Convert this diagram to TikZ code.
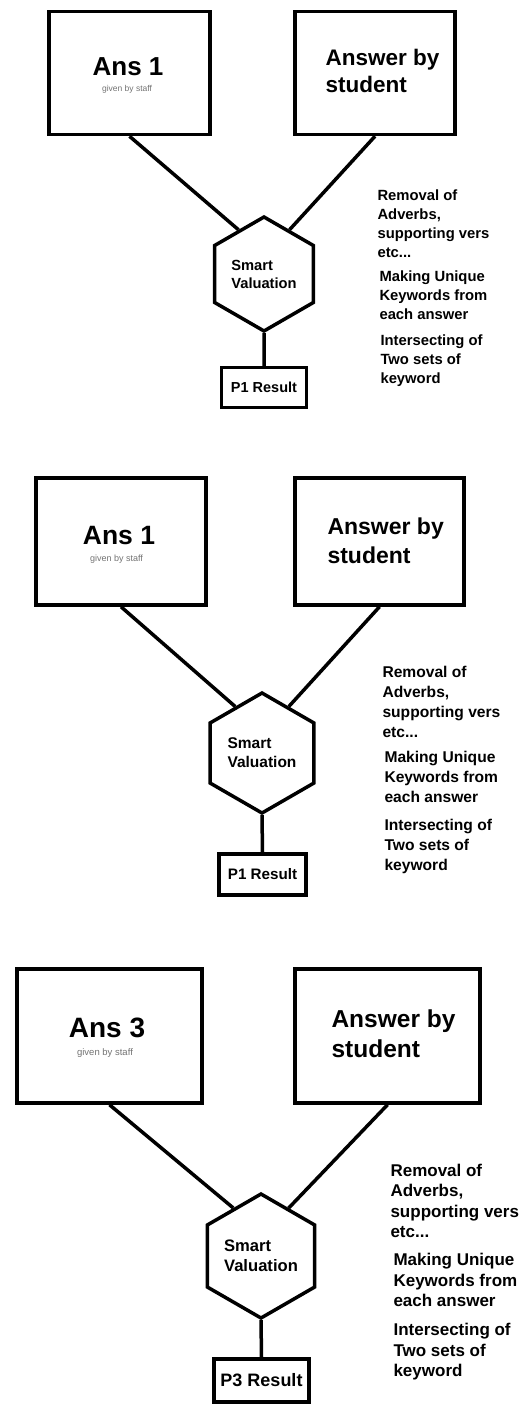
\documentclass[tikz,border=0pt]{standalone}
\usepackage{fontspec}
\setmainfont{Liberation Sans}
\usetikzlibrary{shapes.geometric,positioning}
\newcommand{\fsz}[2]{\fontsize{#1pt}{#2pt}\selectfont\bfseries}

\begin{document}
\begin{tikzpicture}[x=1pt, y=-1pt,
    box/.style={draw, line width=3.5pt, inner sep=0pt},
    hexa/.style={draw, line width=3.5pt, regular polygon, regular polygon sides=6, shape border rotate=90, inner sep=0pt, align=left},
    link/.style={line width=3.5pt},
    small/.style={text=black!55},
    note/.style={anchor=west, align=left}]
    \useasboundingbox (0,0) rectangle (528,1405);
    % panel 1
    \node[box, minimum width=161pt, minimum height=123pt] (a1) at (129.5,73) {};
    \node[box, minimum width=160pt, minimum height=123pt] (s1) at (375,73) {};
    \node[font=\fsz{26}{30}] (t1) at (128,67) {Ans 1};
    \node[small, font=\fontsize{8.5pt}{9pt}\selectfont] (g1) at (127,89) {given by staff};
    \node[note, font=\fsz{22.5}{27}] (b1) at (322,70.5) {Answer by\\student};
    \node[hexa, minimum size=114pt, font=\fsz{14.7}{18}] (h1) at (264,274) {Smart\\Valuation};
    \node[box, minimum width=85pt, minimum height=40pt, font=\fsz{14.5}{17}] (r1) at (264,387.5) {P1 Result};
    \node[note, font=\fsz{14.8}{19}] (n1) at (374,224) {Removal of\\Adverbs,\\supporting vers\\etc...};
    \node[note, font=\fsz{14.8}{19}] (m1) at (376,295.5) {Making Unique\\Keywords from\\each answer};
    \node[note, font=\fsz{14.8}{19}] (k1) at (377,360.5) {Intersecting of\\Two sets of\\keyword};
    \draw[link] (a1.south) -- (h1.120);
    \draw[link] (s1.south) -- (h1.60);
    \draw[link] (h1.south) -- (r1.north);
    % panel 2
    \node[box, minimum width=170pt, minimum height=127pt] (a2) at (121,541.5) {};
    \node[box, minimum width=169pt, minimum height=127pt] (s2) at (379.5,541.5) {};
    \node[font=\fsz{26.5}{30}] (t2) at (119,536) {Ans 1};
    \node[small, font=\fontsize{9pt}{10pt}\selectfont] (g2) at (116.5,559) {given by staff};
    \node[note, font=\fsz{23}{29}] (b2) at (324,540.5) {Answer by\\student};
    \node[hexa, minimum size=120pt, font=\fsz{15.5}{19}] (h2) at (262,753) {Smart\\Valuation};
    \node[box, minimum width=87pt, minimum height=41pt, font=\fsz{15.2}{18}] (r2) at (262.5,874.5) {P1 Result};
    \node[note, font=\fsz{15.6}{20}] (n2) at (379,702) {Removal of\\Adverbs,\\supporting vers\\etc...};
    \node[note, font=\fsz{15.6}{20}] (m2) at (381,777) {Making Unique\\Keywords from\\each answer};
    \node[note, font=\fsz{15.6}{20}] (k2) at (381,846.5) {Intersecting of\\Two sets of\\keyword};
    \draw[link] (a2.south) -- (h2.120);
    \draw[link] (s2.south) -- (h2.60);
    \draw[link] (h2.south) -- (r2.north);
    % panel 3
    \node[box, minimum width=185pt, minimum height=134pt] (a3) at (109.5,1036) {};
    \node[box, minimum width=185pt, minimum height=134pt] (s3) at (387.5,1036) {};
    \node[font=\fsz{28}{32}] (t3) at (107,1028) {Ans 3};
    \node[small, font=\fontsize{9.5pt}{10pt}\selectfont] (g3) at (105,1053) {given by staff};
    \node[note, font=\fsz{24.5}{30}] (b3) at (328,1034) {Answer by\\student};
    \node[hexa, minimum size=124pt, font=\fsz{16.6}{20}] (h3) at (261,1256) {Smart\\Valuation};
    \node[box, minimum width=95pt, minimum height=43pt, font=\fsz{18}{21}] (r3) at (261.5,1380.5) {P3 Result};
    \node[note, font=\fsz{17}{20.5}] (n3) at (387,1201) {Removal of\\Adverbs,\\supporting vers\\etc...};
    \node[note, font=\fsz{17}{20.5}] (m3) at (390,1280) {Making Unique\\Keywords from\\each answer};
    \node[note, font=\fsz{17}{20.5}] (k3) at (390,1352) {Intersecting of\\Two sets of\\keyword};
    \draw[link] (a3.south) -- (h3.120);
    \draw[link] (s3.south) -- (h3.60);
    \draw[link] (h3.south) -- (r3.north);
\end{tikzpicture}
\end{document}
